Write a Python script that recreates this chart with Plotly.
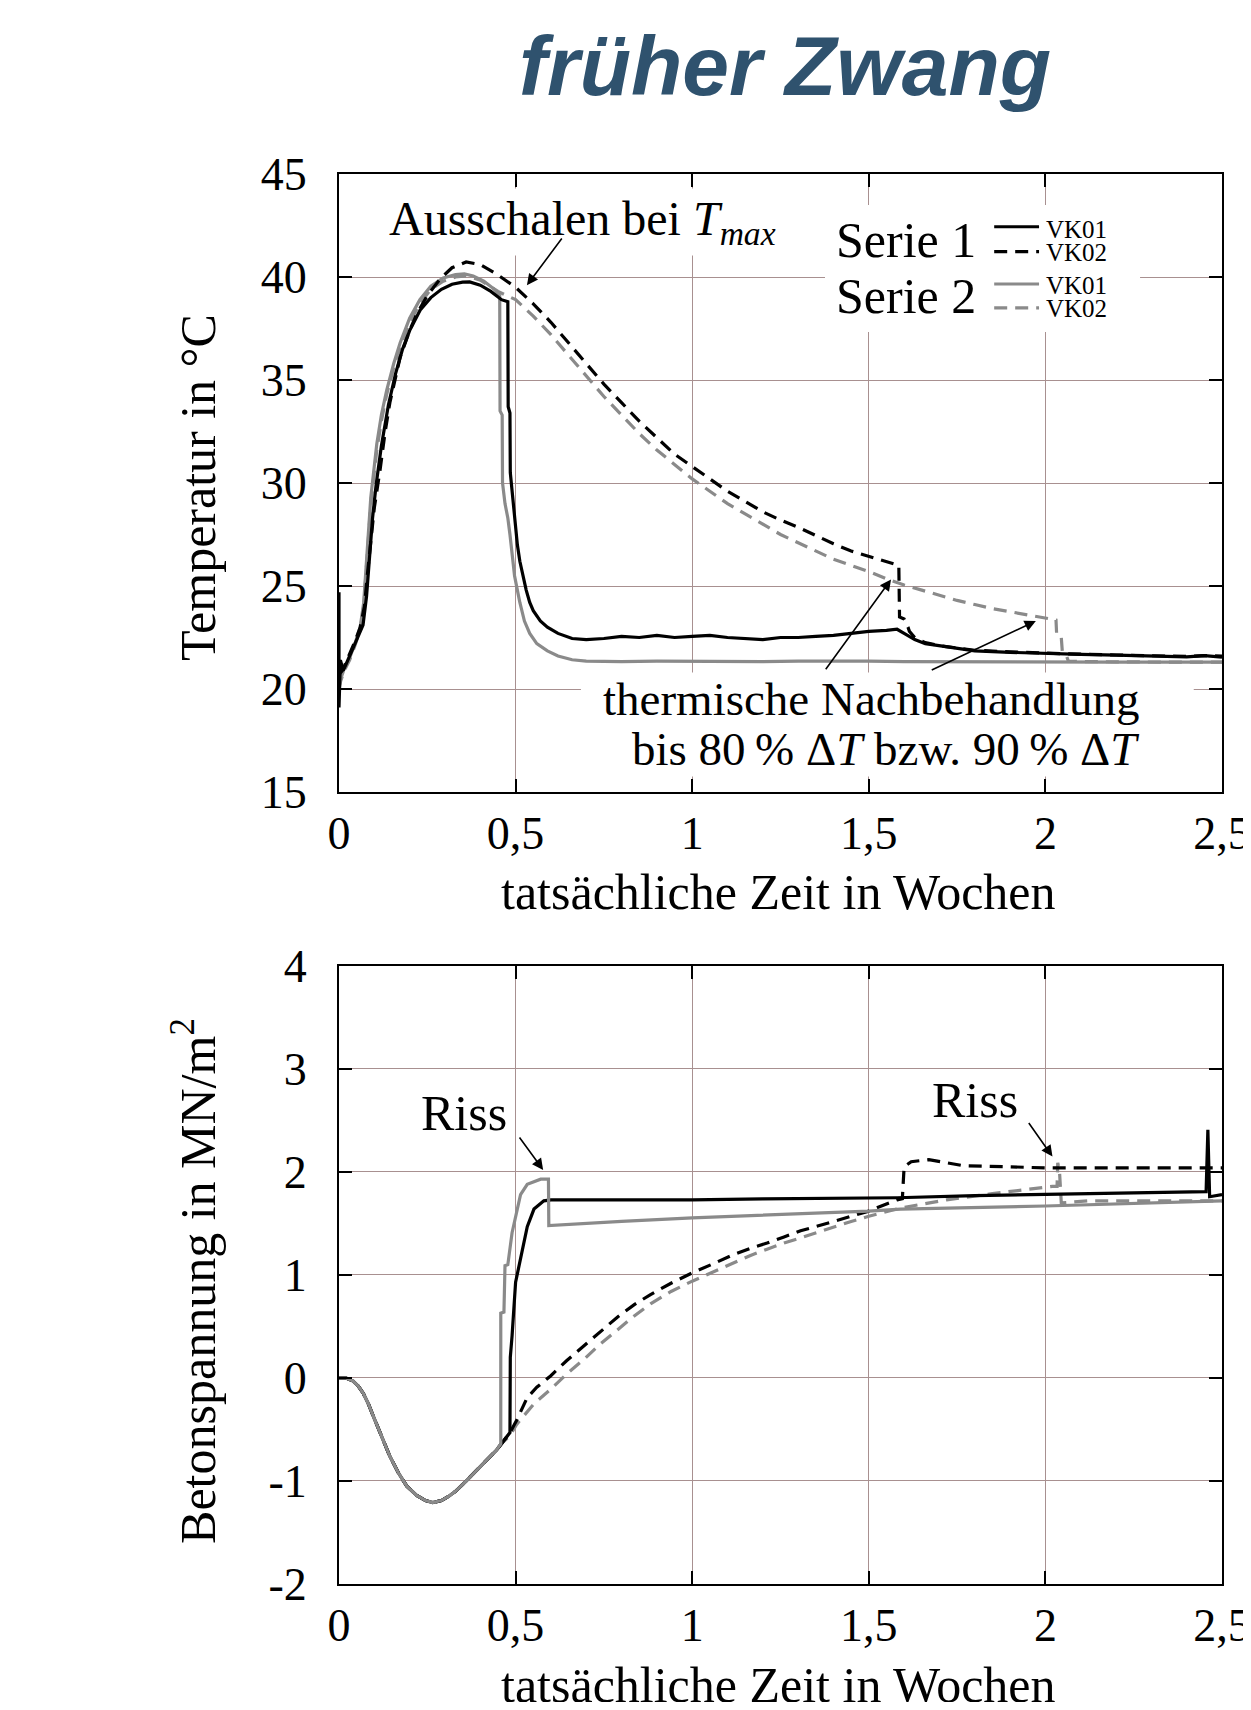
import plotly.graph_objects as go
from plotly.subplots import make_subplots

# ---------------- data: temperature (top) ----------------
t_s1_vk01 = [0, 0, 0.004, 0.012, 0.02, 0.03, 0.04, 0.055, 0.068, 0.078, 0.085, 0.095, 0.105, 0.12, 0.14, 0.16,
             0.18, 0.2, 0.23, 0.26, 0.29, 0.32, 0.35, 0.37, 0.4, 0.43, 0.46, 0.478, 0.479, 0.484, 0.485, 0.492,
             0.5, 0.505, 0.512, 0.52, 0.53, 0.54, 0.55, 0.57, 0.59, 0.62, 0.66, 0.7, 0.75, 0.8, 0.85, 0.9, 0.95,
             1.0, 1.05, 1.1, 1.15, 1.2, 1.25, 1.3, 1.35, 1.4, 1.45, 1.5, 1.55, 1.58, 1.6, 1.63, 1.66, 1.7, 1.75,
             1.8, 1.9, 2.0, 2.1, 2.2, 2.3, 2.4, 2.45, 2.5]
T_s1_vk01 = [24.7, 19.1, 21.4, 20.9, 21.2, 21.6, 22.0, 22.6, 23.1, 24.5, 26.0, 28.3, 29.9, 31.8, 33.8, 35.3,
             36.5, 37.4, 38.4, 39.0, 39.4, 39.65, 39.75, 39.76, 39.6, 39.3, 38.9, 38.8, 33.7, 33.4, 30.5, 29.3,
             28.0, 27.0, 26.2, 25.5, 24.8, 24.2, 23.8, 23.3, 23.0, 22.7, 22.45, 22.4, 22.45, 22.55, 22.5, 22.6, 22.5,
             22.55, 22.6, 22.5, 22.45, 22.4, 22.5, 22.5, 22.55, 22.6, 22.7, 22.8, 22.85, 22.9, 22.7, 22.4, 22.2,
             22.1, 21.95, 21.85, 21.78, 21.72, 21.68, 21.64, 21.6, 21.56, 21.62, 21.55]

t_s1_vk02 = [0, 0.01, 0.02, 0.03, 0.045, 0.06, 0.072, 0.08, 0.088, 0.1, 0.116, 0.13, 0.144, 0.16, 0.173, 0.2,
             0.22, 0.25, 0.286, 0.32, 0.36, 0.4, 0.45, 0.5, 0.55, 0.6, 0.65, 0.7, 0.75, 0.8, 0.85, 0.9, 0.95, 1.0,
             1.05, 1.1, 1.15, 1.2, 1.25, 1.3, 1.35, 1.4, 1.45, 1.5, 1.55, 1.585, 1.587, 1.6, 1.611, 1.615, 1.63,
             1.66, 1.7, 1.75, 1.8, 1.9, 2.0, 2.1, 2.2, 2.3, 2.4, 2.45, 2.5]
T_s1_vk02 = [20.7, 20.9, 21.3, 21.7, 22.3, 23.0, 24.0, 25.5, 26.7, 28.8, 30.6, 32.4, 33.9, 35.1, 36.1, 37.4,
             38.2, 39.1, 39.9, 40.45, 40.73, 40.6, 40.1, 39.5, 38.7, 37.8, 36.8, 35.8, 34.8, 33.9, 33.0, 32.2, 31.4,
             30.8, 30.2, 29.6, 29.1, 28.6, 28.2, 27.85, 27.45, 27.05, 26.7, 26.45, 26.2, 26.0, 23.5, 23.4, 23.0,
             22.8, 22.5, 22.25, 22.1, 21.98, 21.88, 21.8, 21.73, 21.69, 21.65, 21.62, 21.58, 21.62, 21.6]

t_s2_vk01 = [0, 0.005, 0.015, 0.03, 0.045, 0.06, 0.07, 0.078, 0.09, 0.107, 0.12, 0.135, 0.155, 0.173, 0.2,
             0.229, 0.26, 0.295, 0.33, 0.355, 0.38, 0.41, 0.44, 0.455, 0.456, 0.462, 0.463, 0.47, 0.478, 0.484,
             0.49, 0.497, 0.505, 0.512, 0.525, 0.54, 0.56, 0.59, 0.62, 0.66, 0.7, 0.8, 0.9, 1.0, 1.1, 1.2, 1.3,
             1.4, 1.5, 1.6, 1.7, 1.8, 1.9, 2.0, 2.1, 2.2, 2.3, 2.4, 2.5]
T_s2_vk01 = [20.1, 20.5, 21.0, 21.5, 22.2, 23.0, 24.2, 26.5, 29.3, 31.9, 33.3, 34.5, 35.8, 36.8, 38.0,
             38.9, 39.55, 39.95, 40.12, 40.15, 40.05, 39.8, 39.4, 39.1, 33.5, 33.3, 30.0, 29.0, 28.3, 27.5,
             26.6, 25.5, 24.8, 24.2, 23.3, 22.7, 22.2, 21.85, 21.6, 21.42, 21.35, 21.33, 21.35, 21.34, 21.35,
             21.33, 21.35, 21.36, 21.35, 21.33, 21.32, 21.33, 21.32, 21.3, 21.31, 21.3, 21.3, 21.3, 21.3]

t_s2_vk02 = [0, 0.005, 0.015, 0.03, 0.045, 0.06, 0.07, 0.078, 0.09, 0.107, 0.12, 0.135, 0.155, 0.173, 0.2,
             0.229, 0.26, 0.295, 0.33, 0.36, 0.4, 0.45, 0.5, 0.55, 0.6, 0.65, 0.7, 0.75, 0.8, 0.85, 0.9, 0.95,
             1.0, 1.05, 1.1, 1.15, 1.2, 1.25, 1.3, 1.35, 1.4, 1.45, 1.5, 1.55, 1.6, 1.65, 1.7, 1.75, 1.8, 1.85,
             1.9, 1.95, 2.0, 2.03, 2.032, 2.045, 2.048, 2.06, 2.065, 2.1, 2.2, 2.3, 2.4, 2.5]
T_s2_vk02 = [20.0, 20.4, 20.9, 21.4, 22.1, 22.9, 24.0, 26.2, 29.0, 31.6, 33.0, 34.3, 35.6, 36.6, 37.8,
             38.7, 39.4, 39.8, 40.0, 40.05, 39.85, 39.3, 38.9, 38.1, 37.2, 36.2, 35.2, 34.2, 33.3, 32.4, 31.6, 30.9,
             30.2, 29.6, 29.0, 28.5, 28.0, 27.5, 27.1, 26.7, 26.3, 26.0, 25.7, 25.35, 25.05, 24.8, 24.55, 24.3, 24.1,
             23.9, 23.75, 23.6, 23.45, 23.35, 22.6, 22.5, 21.8, 21.6, 21.35, 21.33, 21.32, 21.3, 21.3, 21.3]

# ---------------- data: concrete stress (bottom) ----------------
t_dip = [0, 0.02, 0.04, 0.055, 0.069, 0.083, 0.097, 0.12, 0.144, 0.168, 0.192, 0.22, 0.245, 0.265, 0.29,
         0.31, 0.33, 0.36, 0.39, 0.42, 0.446]
s_dip = [0, 0.0, -0.03, -0.08, -0.15, -0.25, -0.37, -0.57, -0.76, -0.92, -1.05, -1.14, -1.19, -1.21, -1.19,
         -1.15, -1.1, -1.0, -0.89, -0.79, -0.70]

t_s1_vk01_b = [0.465, 0.484, 0.485, 0.49, 0.5, 0.514, 0.533, 0.552, 0.58, 0.6, 0.8, 1.0, 1.2, 1.5, 1.58, 1.8,
               2.0, 2.2, 2.455, 2.46, 2.465, 2.5]
s_s1_vk01_b = [-0.62, -0.53, 0.2, 0.41, 0.93, 1.15, 1.47, 1.64, 1.72, 1.73, 1.73, 1.73, 1.74, 1.745, 1.75, 1.77,
               1.78, 1.79, 1.81, 2.41, 1.76, 1.78]

t_s1_vk02_b = [0.465, 0.484, 0.503, 0.533, 0.56, 0.599, 0.645, 0.693, 0.74, 0.788, 0.835, 0.882, 0.94, 1.0,
               1.06, 1.118, 1.165, 1.212, 1.26, 1.307, 1.35, 1.4, 1.45, 1.5, 1.55, 1.58, 1.595, 1.597, 1.6, 1.62,
               1.67, 1.72, 1.77, 1.9, 2.0, 2.5]
s_s1_vk02_b = [-0.62, -0.53, -0.41, -0.19, -0.09, 0.02, 0.17, 0.31, 0.45, 0.59, 0.71, 0.81, 0.92, 1.02,
               1.11, 1.2, 1.26, 1.31, 1.37, 1.43, 1.47, 1.52, 1.57, 1.62, 1.69, 1.73, 1.74, 1.95, 2.05, 2.10,
               2.12, 2.09, 2.06, 2.05, 2.04, 2.04]

t_s2_vk01_b = [0.458, 0.458, 0.467, 0.47, 0.478, 0.49, 0.514, 0.533, 0.571, 0.593, 0.594, 0.8, 1.0, 1.5, 1.59,
               2.0, 2.5]
s_s2_vk01_b = [-0.64, 0.63, 0.64, 1.09, 1.1, 1.41, 1.78, 1.88, 1.93, 1.93, 1.48, 1.52, 1.555, 1.62, 1.64,
               1.67, 1.72]

t_s2_vk02_b = [0.465, 0.484, 0.503, 0.552, 0.599, 0.645, 0.693, 0.74, 0.788, 0.835, 0.882, 0.94, 1.0, 1.06,
               1.118, 1.165, 1.212, 1.26, 1.307, 1.35, 1.4, 1.45, 1.5, 1.59, 1.72, 1.85, 2.02, 2.033, 2.035,
               2.04, 2.045, 2.12, 2.5]
s_s2_vk02_b = [-0.62, -0.56, -0.45, -0.25, -0.11, 0.04, 0.18, 0.33, 0.47, 0.6, 0.72, 0.84, 0.94, 1.03,
               1.12, 1.19, 1.25, 1.31, 1.36, 1.41, 1.46, 1.52, 1.57, 1.65, 1.73, 1.79, 1.86, 1.86, 2.09,
               2.0, 1.70, 1.72, 1.72]

x_ticks = [0, 0.5, 1, 1.5, 2, 2.5]
x_tick_text = ["0", "0,5", "1", "1,5", "2", "2,5"]
y1_ticks = [15, 20, 25, 30, 35, 40, 45]
y2_ticks = [-2, -1, 0, 1, 2, 3, 4]
y2_tick_text = ["-2", "-1", "0", "1", "2", "3", "4"]

# ---------------- figure ----------------
BLACK = "#000000"
GRAY = "#8a8a8a"
GRID = "#a89090"
SERIF = "Liberation Serif"
FS = 46
LW = 3.2
DASH = "13px,8px"

fig = make_subplots(rows=2, cols=1, vertical_spacing=0.0)

def add(t, v, color, dash, row):
    fig.add_trace(go.Scatter(x=t, y=v, mode="lines",
                             line=dict(color=color, width=LW, dash=dash),
                             showlegend=False, hoverinfo="skip"), row=row, col=1)

# top: gray first (drawn beneath black)
add(t_s2_vk02, T_s2_vk02, GRAY, DASH, 1)
add(t_s2_vk01, T_s2_vk01, GRAY, "solid", 1)
add(t_s1_vk02, T_s1_vk02, BLACK, DASH, 1)
add(t_s1_vk01, T_s1_vk01, BLACK, "solid", 1)

# bottom
add(t_dip + t_s2_vk02_b, s_dip + s_s2_vk02_b, GRAY, DASH, 2)
add(t_dip + t_s1_vk02_b, s_dip + s_s1_vk02_b, BLACK, DASH, 2)
add(t_dip + t_s1_vk01_b, s_dip + s_s1_vk01_b, BLACK, "solid", 2)
add(t_dip + t_s2_vk01_b, s_dip + s_s2_vk01_b, GRAY, "solid", 2)

axis_common = dict(showline=True, linecolor=BLACK, linewidth=2, mirror="ticks",
                   ticks="inside", ticklen=13, tickwidth=2, tickcolor=BLACK,
                   showgrid=True, gridcolor=GRID, gridwidth=1, zeroline=False,
                   automargin=False,
                   tickfont=dict(family=SERIF, size=FS, color=BLACK))

fig.update_xaxes(**axis_common, range=[0, 2.5], tickvals=x_ticks, ticktext=x_tick_text,
                 ticklabelstandoff=0)
fig.update_yaxes(**axis_common, ticklabelstandoff=21)
fig.update_yaxes(range=[15, 45], tickvals=y1_ticks, row=1, col=1)
fig.update_yaxes(range=[-2, 4], tickvals=y2_ticks, ticktext=y2_tick_text, row=2, col=1)

# page has an 8px body margin: the figure is offset by 8px right and down
fig.update_layout(
    width=1243, height=1694,
    margin=dict(l=331, r=29, t=166, b=118, autoexpand=False),
    paper_bgcolor="white", plot_bgcolor="white",
    showlegend=False,
    yaxis=dict(domain=[0.5617, 1.0]),
    yaxis2=dict(domain=[0.0, 0.4383]),
)

font = dict(family=SERIF, size=FS, color=BLACK)
font_big = dict(family=SERIF, size=50, color=BLACK)
ann = []

# title
ann.append(dict(xref="paper", yref="paper", x=0.505, y=1.0766, xanchor="center", yanchor="middle",
                text="<b><i>früher Zwang</i></b>", showarrow=False,
                font=dict(family="Liberation Sans", size=84, color="#2f526e")))

# axis titles
ann.append(dict(xref="paper", yref="paper", x=-0.1597, y=0.778, textangle=-90, showarrow=False,
                xanchor="center", yanchor="middle", text="Temperatur in °C", font=font_big))
ann.append(dict(xref="paper", yref="paper", x=-0.163, y=0.215, textangle=-90, showarrow=False,
                xanchor="center", yanchor="middle", text="Betonspannung in MN/m<sup>2</sup>", font=font_big))
ann.append(dict(xref="paper", yref="paper", x=0.498, y=0.4908, showarrow=False,
                xanchor="center", yanchor="middle", text="tatsächliche Zeit in Wochen", font=font_big))
ann.append(dict(xref="paper", yref="paper", x=0.498, y=-0.0716, showarrow=False,
                xanchor="center", yanchor="middle", text="tatsächliche Zeit in Wochen", font=font_big))

# top annotations
ann.append(dict(xref="x", yref="y", x=0.69, y=42.67, showarrow=False, bgcolor="white", borderpad=3,
                text="Ausschalen bei <i>T</i><sub><i>max</i></sub>", font=dict(family=SERIF, size=48, color=BLACK)))
ann.append(dict(xref="x", yref="y", x=2.27, y=19.5, xanchor="right", showarrow=False,
                text="thermische Nachbehandlung", font=dict(family=SERIF, size=47, color=BLACK)))
ann.append(dict(xref="x", yref="y", x=2.272, y=17.1, xanchor="right", showarrow=False,
                text="bis 80\u2009% Δ<i>T</i> bzw. 90\u2009% Δ<i>T</i>", font=dict(family=SERIF, size=47, color=BLACK)))

# legend texts
ann.append(dict(xref="x", yref="y", x=1.81, y=41.8, xanchor="right", showarrow=False,
                text="Serie 1", font=font_big))
ann.append(dict(xref="x", yref="y", x=1.81, y=39.08, xanchor="right", showarrow=False,
                text="Serie 2", font=font_big))
small = dict(family=SERIF, size=25, color=BLACK)
leg_labels = ["VK01", "VK02", "VK01", "VK02"]
leg_y = [42.33, 41.17, 39.61, 38.45]
for lab, yy in zip(leg_labels, leg_y):
    ann.append(dict(xref="x", yref="y", x=2.0, y=yy, xanchor="left", showarrow=False,
                    text=lab, font=small, borderpad=0))

# arrows (top)
arrow_style = dict(showarrow=True, text="", arrowhead=2, arrowsize=1.4, arrowwidth=1.6,
                   arrowcolor=BLACK, standoff=0)
ann.append(dict(xref="x", yref="y", axref="x", ayref="y", x=0.532, y=39.6, ax=0.634, ay=41.94, **arrow_style))
ann.append(dict(xref="x", yref="y", axref="x", ayref="y", x=1.563, y=25.32, ax=1.375, ay=20.89, **arrow_style))
ann.append(dict(xref="x", yref="y", axref="x", ayref="y", x=1.973, y=23.3, ax=1.674, ay=20.89, **arrow_style))

# bottom annotations
ann.append(dict(xref="x2", yref="y2", x=0.355, y=2.57, showarrow=False, bgcolor="white", borderpad=4,
                text="Riss", font=font_big))
ann.append(dict(xref="x2", yref="y2", x=1.80, y=2.70, showarrow=False, text="Riss", font=font_big))
ann.append(dict(xref="x2", yref="y2", axref="x2", ayref="y2", x=0.578, y=2.02, ax=0.508, ay=2.35, **arrow_style))
ann.append(dict(xref="x2", yref="y2", axref="x2", ayref="y2", x=2.02, y=2.15, ax=1.95, ay=2.49, **arrow_style))

fig.update_layout(annotations=ann)

# white boxes interrupting the grid, and legend line samples
shapes = []
shapes.append(dict(type="rect", xref="x", yref="y", x0=1.376, x1=2.268, y0=37.33, y1=43.5,
                   fillcolor="white", line=dict(width=0), layer="above"))
shapes.append(dict(type="rect", xref="x", yref="y", x0=0.685, x1=2.42, y0=15.75, y1=20.8,
                   fillcolor="white", line=dict(width=0), layer="above"))
leg_styles = [(BLACK, "solid"), (BLACK, DASH), (GRAY, "solid"), (GRAY, DASH)]
leg_line_y = [42.44, 41.23, 39.66, 38.5]
for (col, dsh), yy in zip(leg_styles, leg_line_y):
    shapes.append(dict(type="line", xref="x", yref="y", x0=1.855, x1=1.982, y0=yy, y1=yy,
                       line=dict(color=col, width=LW, dash=dsh), layer="above"))
fig.update_layout(shapes=shapes)

fig.write_html("out.html")
